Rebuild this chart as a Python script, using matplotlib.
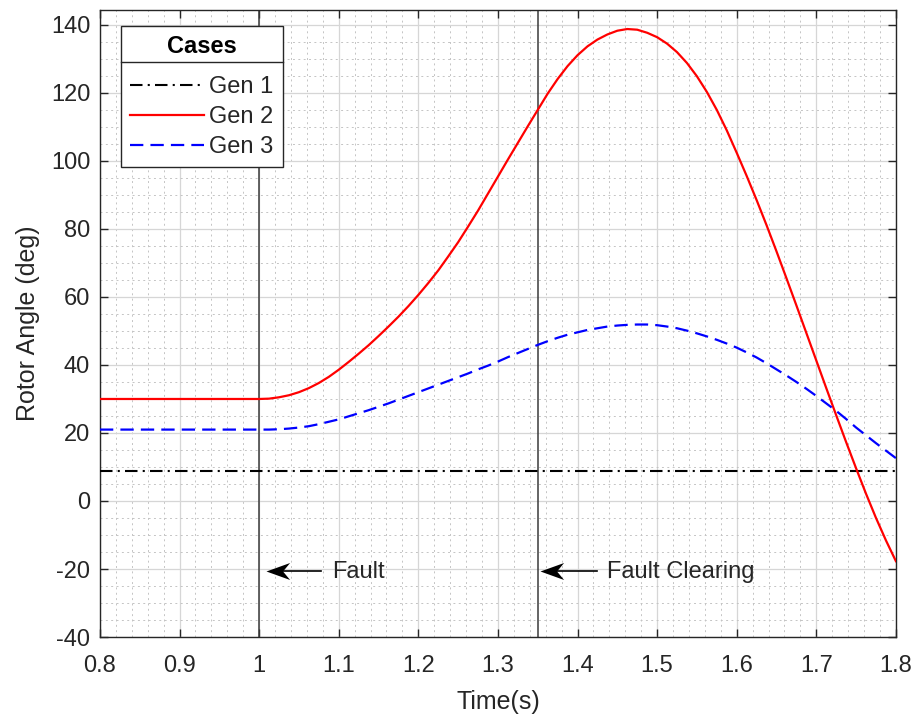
import numpy as np
import matplotlib
matplotlib.use("Agg")
import matplotlib.pyplot as plt
from matplotlib.lines import Line2D
from matplotlib.path import Path

plt.rcParams['font.family'] = ['Liberation Sans', 'DejaVu Sans']
plt.rcParams['axes.unicode_minus'] = False

# ---- data ----
time = np.round(np.arange(0.8, 1.8 + 1e-9, 0.0125), 4)

gen1 = [8.7] * 81

gen2_prefault = [30] * 16
gen2_post = [30, 30.1, 30.5, 31.1, 32.0, 33.2, 34.7, 36.5,
             38.6, 40.9, 43.3, 45.8, 48.5, 51.3, 54.2, 57.3,
             60.6, 64.1, 67.8, 71.9, 76.1, 80.7, 85.4, 90.4,
             95.4, 100.4, 105.3, 110.2, 115.0,
             119.8, 124.1, 127.9, 131.1, 133.7, 135.7, 137.2, 138.3,
             138.8, 138.6, 137.7, 136.4,
             134.5, 132.0, 128.8, 124.9, 120.3, 115.0, 109.0, 102.4,
             95.6, 88.5, 81.1, 73.4, 65.5, 57.5, 49.4, 41.3,
             33.2, 25.2, 17.3, 9.6, 2.1, -5.0, -11.6, -17.7]
gen2 = gen2_prefault + gen2_post

gen3_prefault = [21] * 16
gen3_post = [21.0, 21.0, 21.1, 21.3, 21.6, 22.0, 22.6, 23.3,
             24.0, 24.9, 25.8, 26.7, 27.7, 28.7, 29.8, 30.9,
             32.0, 33.1, 34.2, 35.3, 36.4, 37.5, 38.7, 39.8,
             41.0, 42.3, 43.5, 44.7, 45.9, 47.0, 48.0, 48.9,
             49.6, 50.3, 50.8, 51.3, 51.6, 51.8, 51.9, 51.9,
             51.7, 51.3, 50.8, 50.1, 49.3, 48.4, 47.4, 46.3,
             45.1, 43.7, 42.2, 40.5, 38.7, 36.9, 35.0, 33.0,
             30.9, 28.7, 26.5, 24.1, 21.6, 19.3, 17.0, 14.8,
             12.6]
gen3 = gen3_prefault + gen3_post

series_names = ['Gen 1', 'Gen 2', 'Gen 3']
event_times = [1.0, 1.35]
event_labels = ['Fault', 'Fault Clearing']
x_ticks = [0.8, 0.9, 1.0, 1.1, 1.2, 1.3, 1.4, 1.5, 1.6, 1.7, 1.8]
x_ticklabels = ['0.8', '0.9', '1', '1.1', '1.2', '1.3', '1.4', '1.5', '1.6', '1.7', '1.8']
y_ticks = [-40, -20, 0, 20, 40, 60, 80, 100, 120, 140]

TXT = '#262626'
FS = 17

# ---- figure ----
fig = plt.figure(figsize=(9.17, 7.18), dpi=100)
ax = fig.add_axes([0.109, 0.1128, 0.868, 0.8733])

ax.plot(time, gen1, color='black', ls=(0, (6, 2.5, 1, 2.5)), lw=1.5,
        label=series_names[0], zorder=3)
ax.plot(time, gen2, color=(1, 0, 0), ls='-', lw=1.6, label=series_names[1], zorder=3)
ax.plot(time, gen3, color=(0, 0, 1), ls=(0, (6, 3.2)), lw=1.6,
        label=series_names[2], zorder=3)

for t in event_times:
    ax.axvline(t, color='#3a3a3a', lw=1.1, zorder=2)

ax.set_xlim(0.8, 1.8)
ax.set_ylim(-40, 144.4)
ax.set_xticks(x_ticks)
ax.set_xticklabels(x_ticklabels)
ax.set_yticks(y_ticks)
ax.set_xticks(np.arange(0.8, 1.8001, 0.02), minor=True)
ax.set_yticks(np.arange(-40, 144.5, 5), minor=True)

ax.grid(which='major', color='#d6d6d6', lw=0.9, ls='-', zorder=0)
ax.grid(which='minor', color='#c4c4c4', lw=0.7, ls=(0, (2, 3.5)), zorder=0)
ax.set_axisbelow(True)

ax.tick_params(which='major', direction='in', top=True, right=True, length=6,
               width=1.0, color=TXT, labelsize=FS, labelcolor=TXT, pad=7)
ax.tick_params(axis='x', which='major', pad=13)
ax.tick_params(which='minor', length=0)
for s in ax.spines.values():
    s.set_color(TXT)
    s.set_linewidth(1.0)

ax.set_xlabel('Time(s)', fontsize=18, color=TXT, labelpad=9)
ax.set_ylabel('Rotor Angle (deg)', fontsize=18, color=TXT, labelpad=8)

# annotations: "<-- text" arrows
head = Path([(0, 0), (1, 0.36), (0.7, 0), (1, -0.36), (0, 0)],
            [Path.MOVETO, Path.LINETO, Path.LINETO, Path.LINETO, Path.CLOSEPOLY])
arrows = [(1.008, 1.078, 1.092), (1.353, 1.424, 1.4365)]
for (tip, tail, tx), lab in zip(arrows, event_labels):
    ax.plot([tip + 0.01, tail], [-20.5, -20.5], color='black', lw=1.2, zorder=4)
    ax.plot([tip], [-20.5], marker=head, markersize=34, color='black',
            markeredgewidth=0, zorder=4)
    ax.text(tx, -21, lab, fontsize=FS, color=TXT, va='center', ha='left')

# legend
leg = ax.legend(loc='upper left', bbox_to_anchor=(0.0263, 0.9745), title='Cases',
                fontsize=FS, title_fontproperties={'weight': 'bold', 'size': FS},
                frameon=True, fancybox=False, edgecolor=TXT, framealpha=1,
                handlelength=3.1, handletextpad=0.25, borderpad=0.4,
                labelspacing=0.33, borderaxespad=0)
leg.get_frame().set_linewidth(1.0)
leg.set_zorder(5)
for txt in leg.get_texts():
    txt.set_color(TXT)
leg._legend_box.sep = 13

fig.canvas.draw()
lb = leg.get_window_extent()
tb = leg.get_title().get_window_extent()
ysep = tb.y0 - 4
inv = fig.transFigure.inverted()
(x0, y0s) = inv.transform((lb.x0, ysep))
(x1, _) = inv.transform((lb.x1, ysep))
fig.add_artist(Line2D([x0, x1], [y0s, y0s], color=TXT, lw=1.0,
                      transform=fig.transFigure, zorder=10))

fig.savefig('out.png', dpi=100)
